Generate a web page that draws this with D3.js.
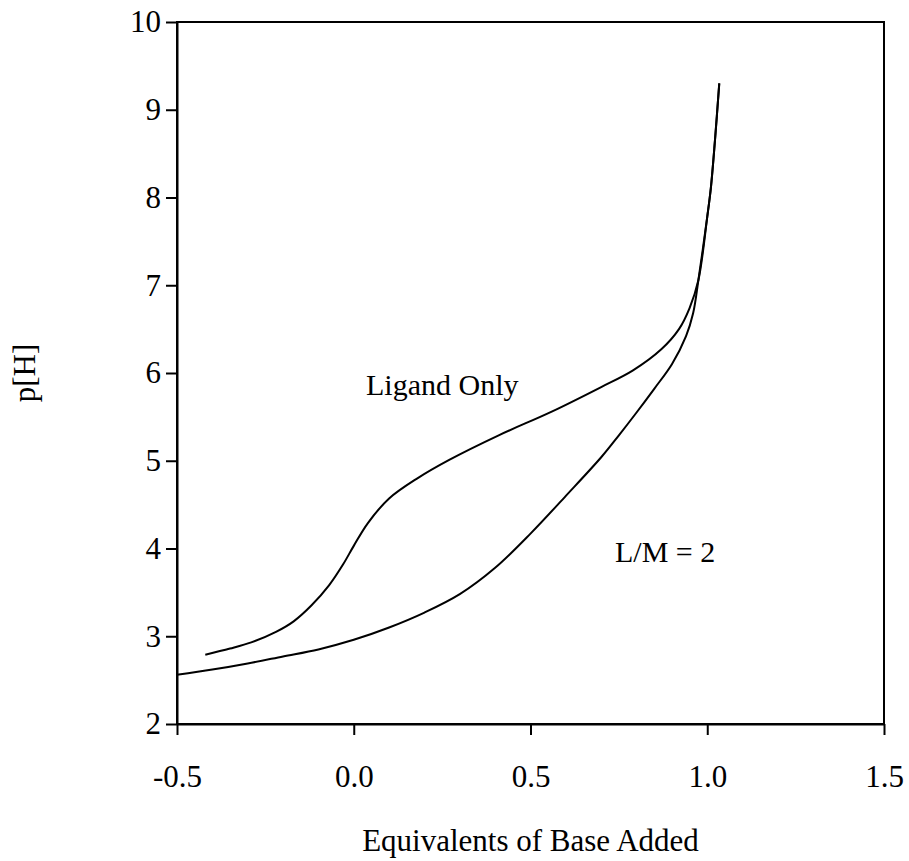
<!DOCTYPE html>
<html>
<head>
<meta charset="utf-8">
<script src="https://cdn.jsdelivr.net/npm/d3@7"></script>
<style>
  body { margin: 0; background: #fff; }
  text { font-family: "Liberation Serif", "Times New Roman", serif; }
</style>
</head>
<body>
<svg></svg>
<script>
// equivalents of base added vs p[H]
var ligandX = [-0.42, -0.35, -0.29, -0.22, -0.17, -0.12, -0.07, -0.03, 0.0, 0.04, 0.1, 0.18, 0.27, 0.41, 0.56, 0.7, 0.79, 0.87, 0.92, 0.95, 0.975, 1.0, 1.01, 1.022, 1.034];
var ligandY = [2.79, 2.86, 2.93, 3.05, 3.17, 3.35, 3.58, 3.82, 4.03, 4.29, 4.57, 4.8, 5.01, 5.29, 5.56, 5.84, 6.03, 6.27, 6.5, 6.74, 7.06, 7.78, 8.1, 8.66, 9.3];

var lmX = [-0.5, -0.4, -0.3, -0.2, -0.1, 0.0, 0.1, 0.2, 0.3, 0.4, 0.5, 0.6, 0.7, 0.75, 0.8, 0.85, 0.9, 0.94, 0.96, 0.975, 1.0, 1.01, 1.022, 1.034];
var lmY = [2.56, 2.62, 2.69, 2.77, 2.85, 2.96, 3.1, 3.27, 3.48, 3.78, 4.17, 4.6, 5.04, 5.29, 5.55, 5.82, 6.1, 6.42, 6.68, 7.06, 7.78, 8.1, 8.66, 9.3];

var xTicks = [-0.5, 0.0, 0.5, 1.0, 1.5];
var yTicks = [2, 3, 4, 5, 6, 7, 8, 9, 10];

var width = 909,
  height = 861;

var svg = d3.select("svg").attr("width", width).attr("height", height);

var x = d3.scaleLinear().domain([-0.5, 1.5]).range([177, 884]);
var y = d3.scaleLinear().domain([2, 10]).range([724, 22]);

// frame
svg
  .append("rect")
  .attr("x", x(-0.5))
  .attr("y", y(10))
  .attr("width", x(1.5) - x(-0.5))
  .attr("height", y(2) - y(10))
  .attr("fill", "none")
  .attr("stroke", "#000")
  .attr("stroke-width", 2);

var xAxis = svg
  .append("g")
  .attr("transform", "translate(0," + y(2) + ")")
  .call(
    d3
      .axisBottom(x)
      .tickValues(xTicks)
      .tickSize(11)
      .tickSizeOuter(0)
      .tickPadding(30)
      .tickFormat(function (d) {
        return d.toFixed(1);
      })
  );

var yAxis = svg
  .append("g")
  .attr("transform", "translate(" + x(-0.5) + ",0)")
  .call(
    d3
      .axisLeft(y)
      .tickValues(yTicks)
      .tickSize(11)
      .tickSizeOuter(0)
      .tickPadding(5)
      .tickFormat(d3.format("d"))
  );

[xAxis, yAxis].forEach(function (g) {
  g.selectAll("path, line").attr("stroke", "#000").attr("stroke-width", 2);
  g.selectAll("text")
    .attr("fill", "#000")
    .attr("font-size", "31px")
    .attr("font-family", "Liberation Serif, Times New Roman, serif");
});

var line = d3
  .line()
  .x(function (d) {
    return x(d[0]);
  })
  .y(function (d) {
    return y(d[1]);
  })
  .curve(d3.curveCatmullRom.alpha(0.5));

var series = [d3.zip(ligandX, ligandY), d3.zip(lmX, lmY)];

svg
  .selectAll(".curve")
  .data(series)
  .join("path")
  .attr("class", "curve")
  .attr("d", line)
  .attr("fill", "none")
  .attr("stroke", "#000")
  .attr("stroke-width", 2);

svg
  .append("text")
  .attr("x", 366)
  .attr("y", 395)
  .attr("font-size", "30px")
  .attr("fill", "#000")
  .text("Ligand Only");

svg
  .append("text")
  .attr("x", 615)
  .attr("y", 562)
  .attr("font-size", "30px")
  .attr("fill", "#000")
  .text("L/M = 2");

svg
  .append("text")
  .attr("x", (x(-0.5) + x(1.5)) / 2)
  .attr("y", 851)
  .attr("font-size", "31px")
  .attr("text-anchor", "middle")
  .attr("fill", "#000")
  .text("Equivalents of Base Added");

svg
  .append("text")
  .attr("transform", "translate(35," + (y(2) + y(10)) / 2 + ") rotate(-90)")
  .attr("font-size", "31px")
  .attr("text-anchor", "middle")
  .attr("fill", "#000")
  .text("p[H]");
</script>
</body>
</html>
